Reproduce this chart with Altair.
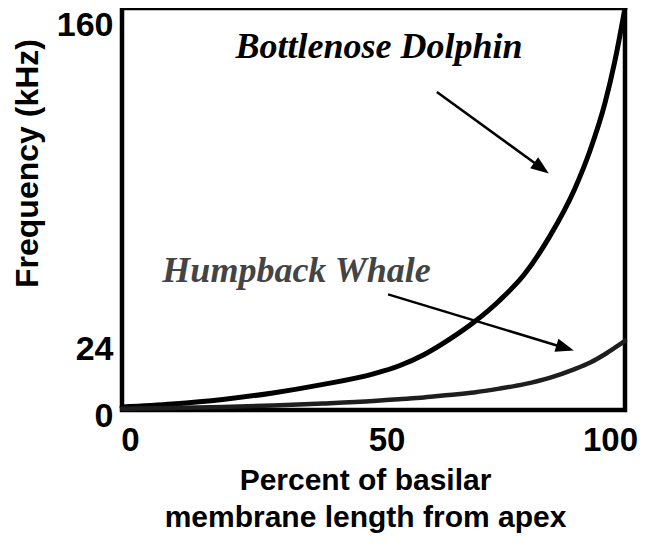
import altair as alt
import pandas as pd

# Percent of basilar membrane length from apex
pct = [0, 10, 20, 30, 40, 50, 55, 60, 65, 70, 75, 80, 85, 90, 93, 96, 98, 100]
# Frequency (kHz)
dolphin = [1.2, 2.4, 4.2, 6.8, 10.2, 14.4, 17.5, 22, 28, 35, 43.5, 54, 69, 88, 103, 122, 139, 160]
whale = [0.5, 0.8, 1.2, 1.8, 2.6, 3.6, 4.3, 5.0, 6.0, 7.0, 8.5, 10.3, 12.8, 16.3, 18.8, 22.2, 24.8, 27.5]

species = ["Bottlenose Dolphin", "Humpback Whale"]
label_x = [51.1, 34.7]
label_y = [140.1, 50.8]
label_color = ["#000000", "#444444"]

arrow_x = [62.6, 52.9]
arrow_y = [126.6, 46.0]
arrow_x2 = [83.4, 88.1]
arrow_y2 = [96.3, 24.7]
arrow_angle = [126, 107]

x_ticks = [0, 50, 100]
y_ticks = [0, 24, 160]

curves = pd.DataFrame(
    {"pct": pct * 2,
     "freq": dolphin + whale,
     "species": [species[0]] * len(pct) + [species[1]] * len(pct)}
)
labels = pd.DataFrame({"species": species, "pct": label_x, "freq": label_y, "color": label_color})
arrows = pd.DataFrame({"species": species, "pct": arrow_x, "freq": arrow_y,
                       "pct2": arrow_x2, "freq2": arrow_y2, "angle": arrow_angle})

xscale = alt.Scale(domain=[0, 100], nice=False, zero=False)
yscale = alt.Scale(domain=[0, 160], nice=False)

xaxis = alt.Axis(
    values=x_ticks, labelFontSize=33, labelFontWeight="bold",
    labelFont="Liberation Sans", labelColor="black", labelPadding=14,
    labelAlign="center",
    labelOffset=alt.ExprRef(expr="datum.value == 0 ? 8 : (datum.value == 50 ? 13 : -15)"),
    domain=False, ticks=False, grid=False,
    title=["Percent of basilar", "membrane length from apex"],
    titleFontSize=30, titleFont="Liberation Sans", titleFontWeight="bold",
    titleColor="black", titleLineHeight=37, titlePadding=8,
    titleX=243, titleAnchor="middle",
)
yaxis = alt.Axis(
    values=y_ticks, labelFontSize=34, labelFontWeight="bold",
    labelFont="Liberation Sans", labelColor="black", labelPadding=9,
    labelBaseline="middle",
    labelOffset=alt.ExprRef(expr="datum.value == 0 ? 6 : (datum.value == 160 ? 17 : 0)"),
    domain=False, ticks=False, grid=False,
    title="Frequency (kHz)", titleFontSize=32, titleFont="Liberation Sans",
    titleFontWeight="bold", titleColor="black",
    titleX=-95, titleY=155, titleAlign="center", titleBaseline="middle", titleAngle=270,
)

lines = alt.Chart(curves).mark_line(interpolate="monotone", strokeCap="round").encode(
    x=alt.X("pct:Q", scale=xscale, axis=xaxis),
    y=alt.Y("freq:Q", scale=yscale, axis=yaxis),
    color=alt.Color("species:N", scale=alt.Scale(domain=species, range=["#000000", "#1e1e1e"]), legend=None),
    strokeWidth=alt.StrokeWidth("species:N", scale=alt.Scale(domain=species, range=[5, 4.5]), legend=None),
)

texts = alt.Chart(labels).mark_text(
    font="Liberation Serif", fontSize=36, fontWeight="bold", fontStyle="italic",
    align="center", baseline="alphabetic",
).encode(
    x=alt.X("pct:Q", scale=xscale),
    y=alt.Y("freq:Q", scale=yscale),
    text="species:N",
    color=alt.Color("color:N", scale=None),
)

rules = alt.Chart(arrows).mark_rule(color="black", strokeWidth=2.5).encode(
    x=alt.X("pct:Q", scale=xscale),
    y=alt.Y("freq:Q", scale=yscale),
    x2="pct2:Q",
    y2="freq2:Q",
)

heads = alt.Chart(arrows).mark_point(
    shape="M0,-1L0.75,1L-0.75,1Z", filled=True, color="black", opacity=1, size=330,
).encode(
    x=alt.X("pct2:Q", scale=xscale),
    y=alt.Y("freq2:Q", scale=yscale),
    angle=alt.Angle("angle:Q", scale=None),
)

chart = alt.layer(lines, rules, heads, texts).properties(
    width=503, height=402,
    background="white",
    autosize=alt.AutoSizeParams(type="none"),
    padding={"left": 114, "top": 0, "right": 13, "bottom": 130},
).configure_view(stroke="black", strokeWidth=4.5)

chart.save("out.html", embed_options={"renderer": "svg", "actions": False})
